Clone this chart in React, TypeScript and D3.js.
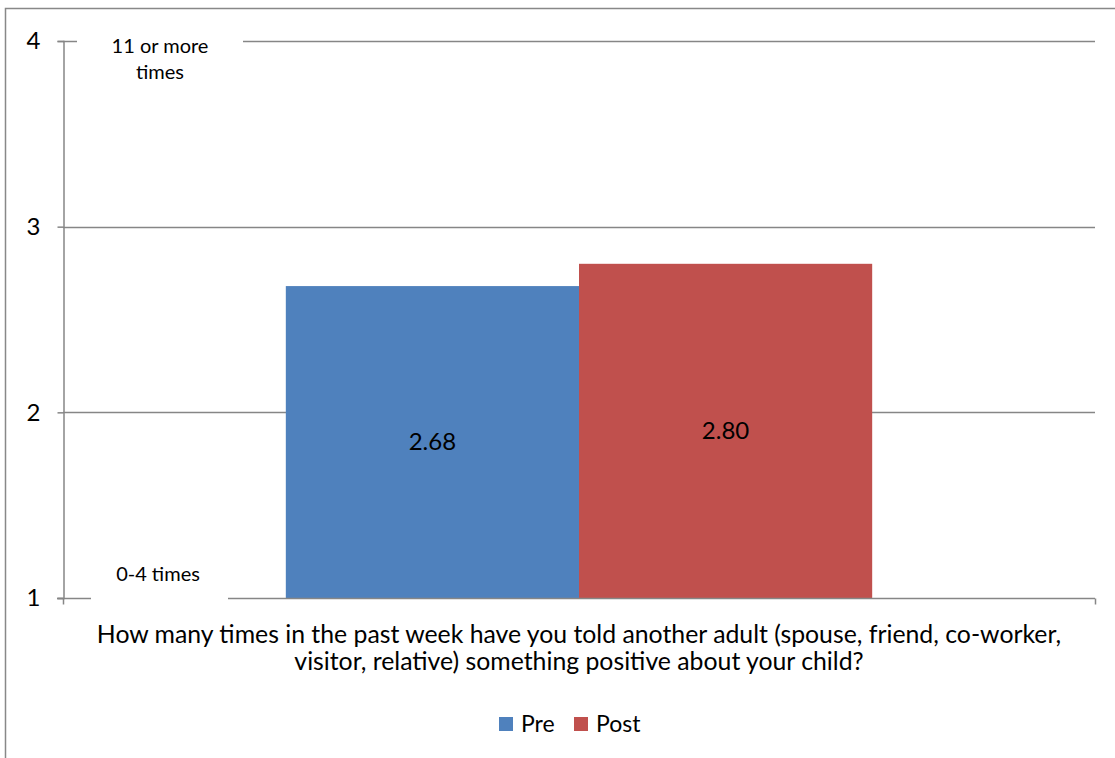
import { useEffect, useRef } from 'react';
import * as d3 from 'd3';

const seriesNames = ['Pre', 'Post'];
const seriesValues = [2.68, 2.8];
const seriesColors = ['#4f81bd', '#c0504d'];
const category = 'How many times in the past week have you told another adult (spouse, friend, co-worker,';
const categoryLine2 = 'visitor, relative) something positive about your child?';
const yTicks = [1, 2, 3, 4];
const topNote = ['11 or more', 'times'];
const bottomNote = '0-4 times';

export default function App() {
  const svgRef = useRef<SVGSVGElement>(null);

  useEffect(() => {
    if (!svgRef.current) return;
    const W = 1115;
    const H = 758;
    const font = 'Lato, "Open Sans", sans-serif';
    const margin = { top: 41, right: 20, bottom: 160, left: 63 };
    const width = W - margin.left - margin.right;
    const height = H - margin.top - margin.bottom;

    const root = d3.select(svgRef.current);
    root.selectAll('*').remove();
    root.attr('width', W).attr('height', H);

    root.append('rect')
      .attr('x', 5.5).attr('y', 8.5)
      .attr('width', W + 10).attr('height', H + 10)
      .attr('fill', '#fff').attr('stroke', '#888').attr('stroke-width', 1.5);

    const svg = root.append('g').attr('transform', `translate(${margin.left},${margin.top})`);

    const y = d3.scaleLinear().domain([1, 4]).range([height, 0]);
    const xCat = d3.scaleBand().domain([category]).range([0, width]).paddingInner(0).paddingOuter(0);
    // gap width ~150% of a bar, split over both sides
    const bw = xCat.bandwidth() / (seriesValues.length + 1.52);
    const x = d3.scaleBand()
      .domain(seriesNames)
      .range([(xCat(category) as number) + bw * 0.76, (xCat(category) as number) + bw * 0.76 + bw * seriesNames.length]);

    // gridlines
    svg.append('g')
      .selectAll('line')
      .data(yTicks.filter(t => t !== 1))
      .enter()
      .append('line')
      .attr('x1', 0).attr('x2', width)
      .attr('y1', d => Math.round(y(d)) + 0.5).attr('y2', d => Math.round(y(d)) + 0.5)
      .attr('stroke', '#868686').attr('stroke-width', 1.5);

    // y axis
    const yAxis = svg.append('g')
      .attr('transform', 'translate(0.5,0)')
      .call(d3.axisLeft(y).tickValues(yTicks).tickFormat(d3.format('d')).tickSize(6).tickPadding(17));
    yAxis.select('.domain').attr('stroke', '#868686').attr('stroke-width', 1.5);
    yAxis.selectAll('line').attr('stroke', '#868686').attr('stroke-width', 1.5);
    yAxis.selectAll('text').style('font-family', font).style('font-size', '24px').attr('fill', '#000');

    // bars
    svg.selectAll('.bar')
      .data(seriesValues)
      .enter()
      .append('rect')
      .attr('class', 'bar')
      .attr('x', (_, i) => x(seriesNames[i]) as number)
      .attr('y', d => y(d))
      .attr('width', x.bandwidth())
      .attr('height', d => height - y(d))
      .attr('fill', (_, i) => seriesColors[i]);

    svg.selectAll('.val')
      .data(seriesValues)
      .enter()
      .append('text')
      .attr('x', (_, i) => (x(seriesNames[i]) as number) + x.bandwidth() / 2)
      .attr('y', d => (y(d) + height) / 2 + 8)
      .attr('text-anchor', 'middle')
      .style('font-family', font)
      .style('font-size', '24px')
      .text(d => d.toFixed(2));

    // x axis
    const xAxis = svg.append('g')
      .attr('transform', `translate(0,${height + 0.5})`);
    xAxis.append('line').attr('x1', -6).attr('x2', width).attr('stroke', '#868686').attr('stroke-width', 1.5);
    [0, width].forEach(px => {
      xAxis.append('line').attr('x1', px + 0.5).attr('x2', px + 0.5).attr('y1', 0).attr('y2', 6)
        .attr('stroke', '#868686').attr('stroke-width', 1.5);
    });

    // notes with white boxes
    const note1 = svg.append('g');
    note1.append('rect').attr('x', 14).attr('y', -10).attr('width', 166).attr('height', 52).attr('fill', '#fff');
    note1.selectAll('text').data(topNote).enter().append('text')
      .attr('x', 97).attr('y', (_, i) => 12 + i * 26)
      .attr('text-anchor', 'middle')
      .style('font-family', font).style('font-size', '20px')
      .text(d => d);
    const note2 = svg.append('g');
    note2.append('rect').attr('x', 28).attr('y', height - 36).attr('width', 137).attr('height', 42).attr('fill', '#fff');
    note2.append('text')
      .attr('x', 95).attr('y', height - 17)
      .attr('text-anchor', 'middle')
      .style('font-family', font).style('font-size', '20px')
      .text(bottomNote);

    // category label
    const cx = width / 2;
    [category, categoryLine2].forEach((t, i) => {
      svg.append('text')
        .attr('x', cx).attr('y', height + 45 + i * 27)
        .attr('text-anchor', 'middle')
        .style('font-family', font).style('font-size', '24.8px')
        .text(t);
    });

    // legend
    const legend = root.append('g').attr('transform', 'translate(499,717)');
    const offs = [0, 75];
    seriesNames.forEach((n, i) => {
      legend.append('rect').attr('x', offs[i]).attr('y', 0).attr('width', 14).attr('height', 14).attr('fill', seriesColors[i]);
      legend.append('text').attr('x', offs[i] + 22).attr('y', 15)
        .style('font-family', font).style('font-size', '23px').text(n);
    });
  }, []);

  return (
    <div style={{ position: 'absolute', left: 0, top: 0 }}>
      <svg ref={svgRef} style={{ display: 'block' }}></svg>
    </div>
  );
}
